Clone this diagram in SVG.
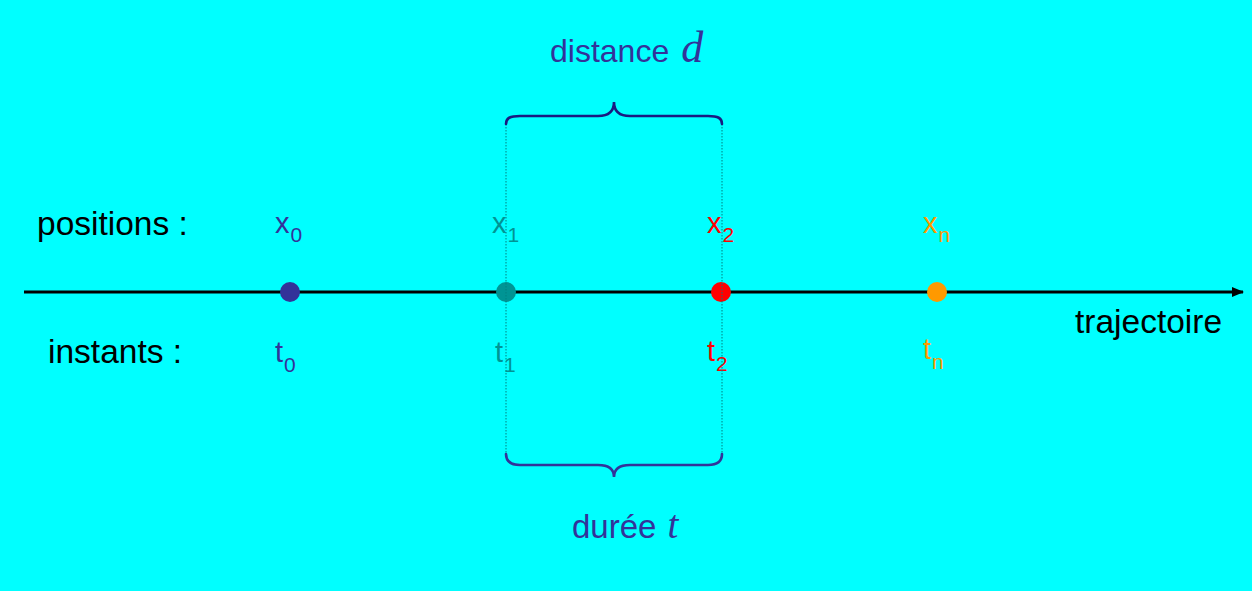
<svg xmlns="http://www.w3.org/2000/svg" width="1252" height="591" viewBox="0 0 1252 591">
<defs>
<style>
.lbl{font-family:"Liberation Sans",Arial,sans-serif;font-size:33.5px;fill:#000}
.cap{font-family:"Liberation Sans",Arial,sans-serif;fill:#333399}
.pt{font-family:"Liberation Sans",Arial,sans-serif;font-size:29px}
.sub{font-size:21px}
.it{font-family:"Liberation Serif","Times New Roman",serif;font-style:italic}
.brace{fill:none;stroke-width:2.6;stroke-linecap:round}
.guide{stroke:#008080;stroke-width:1;stroke-dasharray:1.5 1.5;fill:none}
</style>
<marker id="ah" markerWidth="12" markerHeight="10" refX="11" refY="5" orient="auto" markerUnits="userSpaceOnUse">
<path d="M0,0 L12,5 L0,10 Z" fill="#000"/>
</marker>
</defs>
<rect width="1252" height="591" fill="#00ffff"/>
<g id="connectors">
<line x1="24" y1="292" x2="1243" y2="292" stroke="#000" stroke-width="3" marker-end="url(#ah)"/>
</g>
<g id="row-labels">
<text class="lbl" x="37" y="235">positions :</text>
<text class="lbl" x="48" y="363">instants :</text>
<text class="lbl" x="1075" y="333">trajectoire</text>
</g>
<g id="p0" fill="#333399">
<circle cx="290" cy="292" r="10"/>
<text class="pt" x="275" y="233">x<tspan class="sub" dx="1" dy="9">0</tspan></text>
<text class="pt" x="275" y="362">t<tspan class="sub" dx="1" dy="10">0</tspan></text>
</g>
<g id="p1" fill="#009494">
<circle cx="506" cy="292" r="10"/>
<text class="pt" x="492" y="233">x<tspan class="sub" dx="1" dy="9">1</tspan></text>
<text class="pt" x="495" y="362">t<tspan class="sub" dx="1" dy="10">1</tspan></text>
</g>
<g id="p2" fill="#ff0000">
<circle cx="721" cy="292" r="10"/>
<text class="pt" x="707" y="233">x<tspan class="sub" dx="1" dy="9">2</tspan></text>
<text class="pt" x="707" y="361">t<tspan class="sub" dx="1" dy="10">2</tspan></text>
</g>
<g id="pn" fill="#ff9900">
<circle cx="937" cy="292" r="10"/>
<text class="pt" x="923" y="233">x<tspan class="sub" dx="1" dy="9">n</tspan></text>
<text class="pt" x="923" y="359">t<tspan class="sub" dx="1" dy="10">n</tspan></text>
</g>
<g id="guides">
<line class="guide" x1="506" y1="124" x2="506" y2="454"/>
<line class="guide" x1="722" y1="124" x2="722" y2="454"/>
</g>
<g id="distance">
<path class="brace" stroke="#1a1a80" d="M506,124 C506,118 510,116 520,116 L598,116 C608,116 614,112 614,102 C614,112 620,116 630,116 L708,116 C718,116 722,118 722,124"/>
<text class="cap" x="550" y="62" font-size="32">distance<tspan class="it" dx="12" font-size="44">d</tspan></text>
</g>
<g id="duree">
<path class="brace" stroke="#333399" d="M506,454 C506,461 510,465 520,465 L598,465 C608,465 614,468 614,477 C614,468 620,465 630,465 L708,465 C718,465 722,461 722,454"/>
<text class="cap" x="572" y="538" font-size="33">durée<tspan class="it" dx="11" font-size="39">t</tspan></text>
</g>
</svg>
